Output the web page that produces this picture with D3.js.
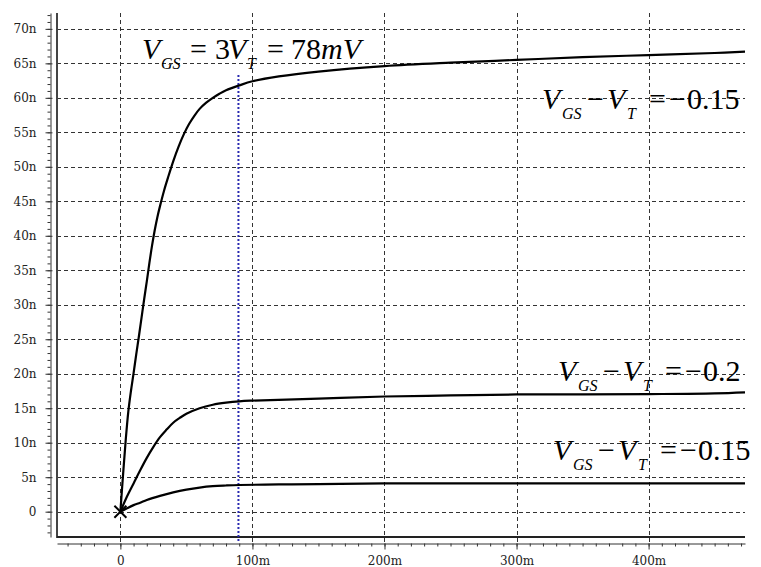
<!DOCTYPE html>
<html>
<head>
<meta charset="utf-8">
<script src="https://cdn.jsdelivr.net/npm/d3@7"></script>
<style>
  html, body { margin: 0; padding: 0; background: #fff; }
  svg { display: block; }
</style>
</head>
<body>
<svg id="chart" width="761" height="567"></svg>
<script>
// ---------- data ----------
const xMajorTicks = [0, 100, 200, 300, 400];
const xTickLabels = ["0", "100m", "200m", "300m", "400m"];
const yMajorTicks = [0, 5, 10, 15, 20, 25, 30, 35, 40, 45, 50, 55, 60, 65, 70];
const yTickLabels = ["0", "5n", "10n", "15n", "20n", "25n", "30n", "35n", "40n", "45n", "50n", "55n", "60n", "65n", "70n"];

// curve 1 (top)
const c1x = [0, 2, 4, 6, 8, 10, 12, 14, 16, 18, 20, 22, 24, 26, 28, 30, 33, 36, 40, 44, 48, 52, 56, 60, 65, 70, 75, 80, 90, 100, 120, 150, 200, 250, 300, 350, 400, 450, 473];
const c1y = [0, 5.3, 10.3, 14.5, 17.5, 20.1, 22.8, 25.4, 28.1, 30.8, 33.4, 36.1, 38.6, 40.8, 42.7, 44.3, 46.5, 48.4, 50.8, 52.9, 54.7, 56.2, 57.4, 58.4, 59.3, 60.0, 60.6, 61.1, 61.8, 62.4, 63.1, 63.8, 64.6, 65.1, 65.5, 65.9, 66.2, 66.5, 66.7];
// curve 2 (middle)
const c2x = [0, 5, 10, 15, 20, 25, 30, 35, 40, 45, 50, 60, 70, 80, 90, 100, 150, 200, 250, 300, 350, 400, 450, 473];
const c2y = [0, 2.2, 4.1, 6.0, 7.8, 9.4, 10.8, 11.9, 12.9, 13.6, 14.2, 15.0, 15.5, 15.8, 16.0, 16.1, 16.4, 16.7, 16.85, 17.0, 17.0, 17.05, 17.15, 17.3];
// curve 3 (bottom)
const c3x = [0, 5, 10, 15, 20, 30, 40, 50, 60, 70, 80, 90, 120, 150, 200, 300, 400, 473];
const c3y = [0, 0.5, 0.95, 1.3, 1.7, 2.3, 2.8, 3.2, 3.5, 3.7, 3.8, 3.87, 3.95, 4.0, 4.1, 4.1, 4.1, 4.1];

const markerX = 89.4;      // blue dotted line position (m)
const markerTop = 63.3;    // top of blue dotted line (n)

const xDomain = [-48, 473];
const yDomain = [-3.67, 72.3];

// ---------- layout ----------
const svg = d3.select("#chart");
const L = 57, R = 745, T = 13, B = 537;
const x = d3.scaleLinear().domain(xDomain).range([L, R]);
const y = d3.scaleLinear().domain(yDomain).range([B, T]);
const gridColor = "#333";
const tickFont = "DejaVu Serif";
const annFont = "Liberation Serif";

// grid
svg.append("g").selectAll("line").data(yMajorTicks).join("line")
  .attr("x1", L).attr("x2", R)
  .attr("y1", d => Math.round(y(d)) + 0.5).attr("y2", d => Math.round(y(d)) + 0.5)
  .attr("stroke", gridColor).attr("stroke-width", 1).attr("stroke-dasharray", "4,3");
svg.append("g").selectAll("line").data(xMajorTicks).join("line")
  .attr("x1", d => Math.round(x(d)) + 0.5).attr("x2", d => Math.round(x(d)) + 0.5)
  .attr("y1", T).attr("y2", 543)
  .attr("stroke", gridColor).attr("stroke-width", 1).attr("stroke-dasharray", "4,3");

// frame
svg.append("line").attr("x1", L).attr("x2", L).attr("y1", T).attr("y2", B + 1)
  .attr("stroke", "#444").attr("stroke-width", 2);
svg.append("line").attr("x1", L).attr("x2", R).attr("y1", B).attr("y2", B)
  .attr("stroke", "#222").attr("stroke-width", 2);

// y axis (left spine with minor ticks)
const yMinor = d3.range(-3, 73, 1);
const yAxisMinor = d3.axisLeft(y).tickValues(yMinor).tickSize(3).tickFormat("").tickSizeOuter(0);
const gyMinor = svg.append("g").attr("transform", "translate(50.5,0)").call(yAxisMinor);
gyMinor.select(".domain").attr("stroke", "#333");
gyMinor.selectAll(".tick line").attr("stroke", "#333");
const yAxisMajor = d3.axisLeft(y).tickValues(yMajorTicks).tickSize(5).tickPadding(9)
  .tickFormat((d, i) => yTickLabels[i]).tickSizeOuter(0);
const gy = svg.append("g").attr("transform", "translate(50.5,0)").call(yAxisMajor);
gy.attr("font-family", tickFont).attr("font-size", 12);
gy.select(".domain").remove();
gy.selectAll(".tick line").attr("stroke", "#333").attr("x2", -5).attr("x1", 2);
gy.selectAll(".tick text").attr("fill", "#222");

// x axis (bottom spine with minor ticks)
const xMinor = d3.range(-40, 471, 10);
const xAxisMinor = d3.axisBottom(x).tickValues(xMinor).tickSize(3).tickFormat("").tickSizeOuter(0);
const gxMinor = svg.append("g").attr("transform", "translate(0,543.5)").call(xAxisMinor);
gxMinor.select(".domain").attr("stroke", "#333");
gxMinor.selectAll(".tick line").attr("stroke", "#333");
const xAxisMajor = d3.axisBottom(x).tickValues(xMajorTicks).tickSize(6).tickPadding(7)
  .tickFormat((d, i) => xTickLabels[i]).tickSizeOuter(0);
const gx = svg.append("g").attr("transform", "translate(0,543.5)").call(xAxisMajor);
gx.attr("font-family", tickFont).attr("font-size", 12);
gx.select(".domain").remove();
gx.selectAll(".tick line").attr("stroke", "#333");
gx.selectAll(".tick text").attr("fill", "#222");

// clip
svg.append("clipPath").attr("id", "plotclip").append("rect")
  .attr("x", L).attr("y", T).attr("width", R - L + 1).attr("height", B - T);

// blue dotted line
svg.append("line")
  .attr("x1", x(markerX)).attr("x2", x(markerX))
  .attr("y1", y(markerTop)).attr("y2", 543)
  .attr("stroke", "#2a2ab0").attr("stroke-width", 2).attr("stroke-dasharray", "2,2");

// curves
const line = d3.line().x(d => x(d[0])).y(d => y(d[1])).curve(d3.curveCatmullRom.alpha(0.5));
[[c1x, c1y], [c2x, c2y], [c3x, c3y]].forEach(([xs, ys]) => {
  svg.append("path")
    .datum(xs.map((v, i) => [v, ys[i]]))
    .attr("d", line)
    .attr("fill", "none").attr("stroke", "#000").attr("stroke-width", 2.2)
    .attr("stroke-linejoin", "round")
    .attr("clip-path", "url(#plotclip)");
});

// origin marker
svg.append("path")
  .attr("transform", `translate(${x(0)},${y(0)})`)
  .attr("d", "M-6,-6L6,6M-6,6L6,-6")
  .attr("stroke", "#000").attr("stroke-width", 2).attr("fill", "none");

// ---------- annotations ----------
function drawLabel(x0, y0, parts) {
  const t = svg.append("text").attr("font-family", annFont).attr("fill", "#000");
  parts.forEach(p => {
    const ts = t.append("tspan").text(p.t)
      .attr("font-size", p.sub ? 16 : 30)
      .attr("font-style", p.it ? "italic" : "normal")
      .attr("y", y0 + (p.sub ? 10 : 0));
    if (p.dx !== undefined) ts.attr("x", x0 + p.dx);
  });
}
drawLabel(142, 59, [
  {t: "V", it: true, dx: 0}, {t: "GS", it: true, sub: true, dx: 19},
  {t: "=", dx: 48}, {t: "3", dx: 73}, {t: "V", it: true, dx: 86},
  {t: "T", it: true, sub: true, dx: 105}, {t: "=", dx: 125}, {t: "78", dx: 149},
  {t: "mV", it: true}
]);
const diffParts = (val) => [
  {t: "V", it: true, dx: 0}, {t: "GS", it: true, sub: true, dx: 20},
  {t: "\u2212", dx: 45}, {t: "V", it: true, dx: 65},
  {t: "T", it: true, sub: true, dx: 85}, {t: "=", dx: 107},
  {t: "\u2212", dx: 127}, {t: val, dx: 145}
];
drawLabel(542, 109, diffParts("0.15"));
drawLabel(558, 381, diffParts("0.2"));
drawLabel(553, 460, diffParts("0.15"));
</script>
</body>
</html>
